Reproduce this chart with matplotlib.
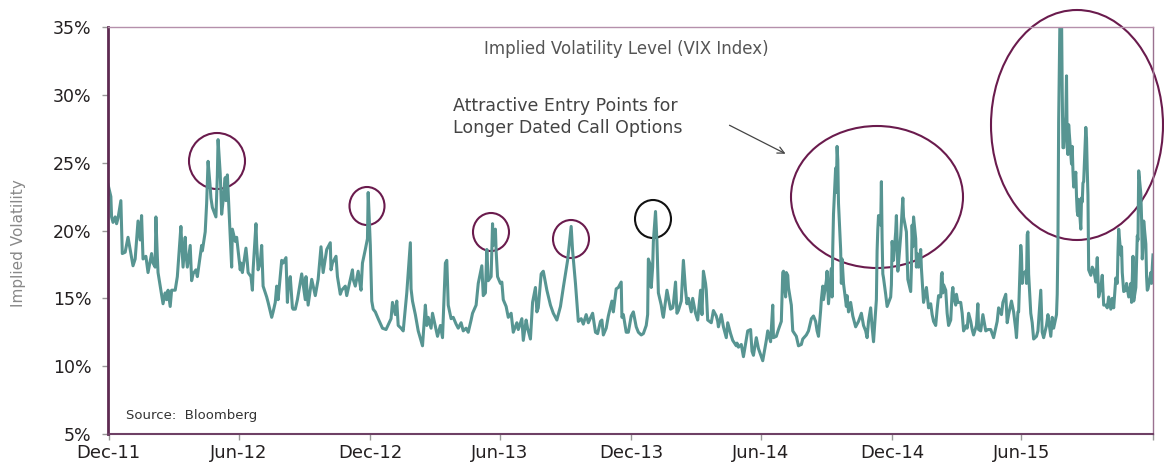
import matplotlib
matplotlib.use("Agg")
from matplotlib import pyplot as plt
from matplotlib.patches import Ellipse
import pandas as pd

dates = [
    "2011-12-30", "2012-01-03", "2012-01-04", "2012-01-06", "2012-01-09", "2012-01-11", "2012-01-13", "2012-01-17",
    "2012-01-19", "2012-01-23", "2012-01-27", "2012-01-31", "2012-02-03", "2012-02-06", "2012-02-10", "2012-02-13",
    "2012-02-15", "2012-02-17", "2012-02-21", "2012-02-24", "2012-02-29", "2012-03-02", "2012-03-05", "2012-03-06",
    "2012-03-08", "2012-03-09", "2012-03-13", "2012-03-16", "2012-03-19", "2012-03-21", "2012-03-23", "2012-03-26",
    "2012-03-28", "2012-04-02", "2012-04-04", "2012-04-05", "2012-04-10", "2012-04-11", "2012-04-13", "2012-04-16",
    "2012-04-17", "2012-04-19", "2012-04-23", "2012-04-25", "2012-04-27", "2012-05-01", "2012-05-03", "2012-05-09",
    "2012-05-10", "2012-05-14", "2012-05-16", "2012-05-18", "2012-05-21", "2012-05-22", "2012-05-24", "2012-05-29",
    "2012-05-31", "2012-06-01", "2012-06-04", "2012-06-06", "2012-06-08", "2012-06-11", "2012-06-12", "2012-06-14",
    "2012-06-18", "2012-06-19", "2012-06-20", "2012-06-21", "2012-06-25", "2012-06-27", "2012-07-02", "2012-07-03",
    "2012-07-05", "2012-07-10", "2012-07-12", "2012-07-13", "2012-07-17", "2012-07-19", "2012-07-20", "2012-07-24",
    "2012-07-25", "2012-07-27", "2012-07-30", "2012-08-01", "2012-08-03", "2012-08-08", "2012-08-10", "2012-08-15",
    "2012-08-17", "2012-08-20", "2012-08-22", "2012-08-24", "2012-08-29", "2012-08-31", "2012-09-04", "2012-09-06",
    "2012-09-07", "2012-09-10", "2012-09-13", "2012-09-14", "2012-09-17", "2012-09-20", "2012-09-26", "2012-10-01",
    "2012-10-02", "2012-10-05", "2012-10-10", "2012-10-15", "2012-10-19", "2012-10-23", "2012-10-26", "2012-10-31",
    "2012-11-05", "2012-11-06", "2012-11-08", "2012-11-13", "2012-11-15", "2012-11-19", "2012-11-21", "2012-11-26",
    "2012-11-28", "2012-12-06", "2012-12-07", "2012-12-10", "2012-12-14", "2012-12-17", "2012-12-18", "2012-12-20",
    "2012-12-24", "2012-12-27", "2012-12-28", "2012-12-31",
    "2013-01-02", "2013-01-04", "2013-01-07", "2013-01-11", "2013-01-17", "2013-01-22", "2013-01-29", "2013-01-31",
    "2013-02-04", "2013-02-06", "2013-02-08", "2013-02-12", "2013-02-15", "2013-02-20", "2013-02-25", "2013-02-26",
    "2013-02-28", "2013-03-04", "2013-03-08", "2013-03-14", "2013-03-18", "2013-03-20", "2013-03-22", "2013-03-26",
    "2013-03-28", "2013-04-04", "2013-04-08", "2013-04-11", "2013-04-15", "2013-04-17", "2013-04-19", "2013-04-23",
    "2013-04-26", "2013-04-30", "2013-05-03", "2013-05-07", "2013-05-10", "2013-05-14", "2013-05-17", "2013-05-21",
    "2013-05-23", "2013-05-28", "2013-05-31", "2013-06-05", "2013-06-07", "2013-06-10", "2013-06-12", "2013-06-14",
    "2013-06-18", "2013-06-20", "2013-06-21", "2013-06-24", "2013-06-25", "2013-06-27", "2013-07-01", "2013-07-03",
    "2013-07-05", "2013-07-09", "2013-07-12", "2013-07-16", "2013-07-19", "2013-07-24", "2013-07-26", "2013-07-31",
    "2013-08-02", "2013-08-06", "2013-08-08", "2013-08-12", "2013-08-15", "2013-08-19", "2013-08-21", "2013-08-23",
    "2013-08-27", "2013-08-30", "2013-09-04", "2013-09-09", "2013-09-13", "2013-09-18", "2013-09-23", "2013-09-27",
    "2013-10-03", "2013-10-08", "2013-10-10", "2013-10-14", "2013-10-16", "2013-10-18", "2013-10-22", "2013-10-25",
    "2013-10-29", "2013-11-01", "2013-11-07", "2013-11-11", "2013-11-14", "2013-11-18", "2013-11-20", "2013-11-22",
    "2013-11-26", "2013-11-29", "2013-12-04", "2013-12-06", "2013-12-10", "2013-12-13", "2013-12-17", "2013-12-18",
    "2013-12-20", "2013-12-24", "2013-12-27", "2013-12-31",
    "2014-01-03", "2014-01-07", "2014-01-10", "2014-01-14", "2014-01-17", "2014-01-21", "2014-01-23", "2014-01-24",
    "2014-01-27", "2014-01-28", "2014-01-30", "2014-01-31", "2014-02-03", "2014-02-05", "2014-02-07", "2014-02-11",
    "2014-02-13", "2014-02-14", "2014-02-19", "2014-02-24", "2014-02-27", "2014-02-28", "2014-03-03", "2014-03-05",
    "2014-03-07", "2014-03-11", "2014-03-14", "2014-03-17", "2014-03-19", "2014-03-21", "2014-03-25", "2014-03-27",
    "2014-03-31", "2014-04-03", "2014-04-07", "2014-04-09", "2014-04-11", "2014-04-14", "2014-04-15", "2014-04-17",
    "2014-04-22", "2014-04-25", "2014-04-29", "2014-05-01", "2014-05-02", "2014-05-06", "2014-05-09", "2014-05-13",
    "2014-05-15", "2014-05-19", "2014-05-22", "2014-05-27", "2014-05-28", "2014-05-30", "2014-06-03", "2014-06-06",
    "2014-06-12", "2014-06-16", "2014-06-18", "2014-06-20", "2014-06-24", "2014-06-27", "2014-07-03", "2014-07-08",
    "2014-07-10", "2014-07-14", "2014-07-17", "2014-07-18", "2014-07-22", "2014-07-25", "2014-07-29", "2014-07-31",
    "2014-08-01", "2014-08-04", "2014-08-05", "2014-08-07", "2014-08-08", "2014-08-12", "2014-08-14", "2014-08-19",
    "2014-08-22", "2014-08-26", "2014-08-28", "2014-09-02", "2014-09-05", "2014-09-09", "2014-09-12", "2014-09-15",
    "2014-09-17", "2014-09-19", "2014-09-22", "2014-09-23", "2014-09-25", "2014-09-26", "2014-09-30", "2014-10-01",
    "2014-10-03", "2014-10-07", "2014-10-08", "2014-10-09", "2014-10-10", "2014-10-13", "2014-10-14", "2014-10-15",
    "2014-10-16", "2014-10-17", "2014-10-20", "2014-10-21", "2014-10-22", "2014-10-24", "2014-10-28", "2014-10-29",
    "2014-10-31", "2014-11-03", "2014-11-06", "2014-11-10", "2014-11-14", "2014-11-18", "2014-11-21", "2014-11-24",
    "2014-11-26", "2014-11-28", "2014-12-01", "2014-12-03", "2014-12-05", "2014-12-08", "2014-12-09", "2014-12-10",
    "2014-12-11", "2014-12-12", "2014-12-15", "2014-12-16", "2014-12-17", "2014-12-18", "2014-12-19", "2014-12-22",
    "2014-12-24", "2014-12-29", "2014-12-30", "2014-12-31",
    "2015-01-02", "2015-01-05", "2015-01-06", "2015-01-07", "2015-01-08", "2015-01-09", "2015-01-12", "2015-01-13",
    "2015-01-14", "2015-01-15", "2015-01-16", "2015-01-20", "2015-01-22", "2015-01-26", "2015-01-27", "2015-01-28",
    "2015-01-29", "2015-01-30", "2015-02-02", "2015-02-03", "2015-02-04", "2015-02-06", "2015-02-09", "2015-02-10",
    "2015-02-13", "2015-02-17", "2015-02-20", "2015-02-23", "2015-02-25", "2015-02-27", "2015-03-02", "2015-03-04",
    "2015-03-06", "2015-03-09", "2015-03-10", "2015-03-11", "2015-03-12", "2015-03-13", "2015-03-16", "2015-03-18",
    "2015-03-20", "2015-03-23", "2015-03-25", "2015-03-26", "2015-03-27", "2015-03-30", "2015-03-31", "2015-04-02",
    "2015-04-06", "2015-04-08", "2015-04-10", "2015-04-14", "2015-04-15", "2015-04-17", "2015-04-20", "2015-04-22",
    "2015-04-24", "2015-04-28", "2015-04-30", "2015-05-01", "2015-05-04", "2015-05-07", "2015-05-11", "2015-05-14",
    "2015-05-18", "2015-05-20", "2015-05-22", "2015-05-27", "2015-05-29", "2015-06-02", "2015-06-04", "2015-06-08",
    "2015-06-10", "2015-06-12", "2015-06-16", "2015-06-19", "2015-06-22", "2015-06-23", "2015-06-25", "2015-06-26",
    "2015-06-29", "2015-06-30", "2015-07-01", "2015-07-02", "2015-07-06", "2015-07-07", "2015-07-08", "2015-07-09",
    "2015-07-10", "2015-07-13", "2015-07-15", "2015-07-17", "2015-07-21", "2015-07-23", "2015-07-27", "2015-07-29",
    "2015-07-31", "2015-08-04", "2015-08-06", "2015-08-10", "2015-08-12", "2015-08-14", "2015-08-18", "2015-08-19",
    "2015-08-20", "2015-08-21", "2015-08-24", "2015-08-25", "2015-08-26", "2015-08-27", "2015-08-28", "2015-08-31",
    "2015-09-01", "2015-09-02", "2015-09-03", "2015-09-04", "2015-09-08", "2015-09-09", "2015-09-10", "2015-09-11",
    "2015-09-14", "2015-09-15", "2015-09-16", "2015-09-17", "2015-09-18", "2015-09-21", "2015-09-22", "2015-09-23",
    "2015-09-24", "2015-09-25", "2015-09-28", "2015-09-29", "2015-09-30", "2015-10-01", "2015-10-02", "2015-10-05",
    "2015-10-07", "2015-10-09", "2015-10-12", "2015-10-14", "2015-10-16", "2015-10-19", "2015-10-21", "2015-10-23",
    "2015-10-26", "2015-10-28", "2015-10-30", "2015-11-02", "2015-11-04", "2015-11-06", "2015-11-09", "2015-11-11",
    "2015-11-12", "2015-11-13", "2015-11-16", "2015-11-17", "2015-11-18", "2015-11-20", "2015-11-23", "2015-11-24",
    "2015-11-27", "2015-11-30", "2015-12-01", "2015-12-03", "2015-12-04", "2015-12-07", "2015-12-08", "2015-12-09",
    "2015-12-10", "2015-12-11", "2015-12-14", "2015-12-15", "2015-12-16", "2015-12-17", "2015-12-18", "2015-12-21",
    "2015-12-22", "2015-12-23", "2015-12-24", "2015-12-28", "2015-12-29", "2015-12-30", "2015-12-31",
]

vix = [
    23.4, 22.5, 21.0, 20.6, 21.0, 20.5, 20.9, 22.2,
    18.3, 18.4, 19.5, 18.3, 17.4, 17.9, 20.7, 19.3,
    21.1, 17.9, 18.1, 16.9, 18.3, 17.6, 17.3, 21.0,
    18.1, 16.9, 15.6, 14.6, 15.4, 14.9, 15.6, 14.4,
    15.6, 15.6, 16.3, 16.6, 20.3, 19.2, 17.3, 19.5,
    18.3, 17.3, 18.9, 16.3, 16.8, 17.1, 16.6, 18.9,
    18.5, 19.9, 22.0, 25.1, 23.2, 22.4, 21.7, 21.0,
    24.1, 26.7, 24.2, 21.2, 22.2, 23.9, 22.2, 24.1,
    19.5, 18.3, 17.3, 20.1, 19.2, 19.5, 17.1, 17.6,
    16.9, 18.7, 17.6, 16.9, 16.6, 15.6, 17.1, 20.5,
    19.0, 17.1, 17.6, 18.9, 15.9, 15.1, 14.7, 13.6,
    14.0, 14.7, 15.9, 14.9, 17.8, 17.6, 18.0, 14.7,
    15.7, 16.6, 14.3, 14.2, 14.2, 14.9, 16.8, 14.9,
    16.6, 14.5, 16.4, 15.2, 16.4, 18.8, 16.9, 18.6,
    19.1, 17.1, 17.6, 18.1, 16.6, 15.3, 15.6, 15.9,
    15.2, 17.1, 16.4, 15.9, 17.0, 15.9, 15.6, 17.6,
    18.6, 19.4, 22.8, 18.9,
    14.8, 14.2, 14.0, 13.5, 12.8, 12.7, 13.5, 14.7,
    13.8, 14.8, 13.0, 12.8, 12.6, 15.4, 19.1, 15.7,
    14.8, 13.8, 12.6, 11.5, 14.5, 13.0, 13.6, 12.8,
    13.9, 12.2, 13.0, 12.1, 17.6, 17.8, 14.5, 13.5,
    13.6, 13.1, 12.8, 13.2, 12.6, 12.8, 12.5, 13.4,
    13.9, 14.5, 16.1, 17.4, 15.2, 15.4, 18.6, 16.3,
    16.6, 20.5, 18.9, 20.1, 18.5, 16.6, 16.1, 16.2,
    14.9, 14.4, 13.6, 13.9, 12.5, 13.2, 12.7, 13.5,
    11.9, 13.4, 12.8, 12.0, 14.7, 15.8, 14.0, 14.3,
    16.8, 17.0, 15.6, 14.5, 13.9, 13.4, 14.4, 15.8,
    17.8, 20.3, 18.5, 16.1, 14.7, 13.3, 13.5, 13.1,
    13.8, 13.2, 13.9, 12.5, 12.4, 13.3, 13.4, 12.3,
    12.8, 13.7, 14.8, 14.0, 15.7, 15.8, 16.2, 13.6,
    13.8, 12.5, 12.5, 13.7,
    14.0, 12.9, 12.5, 12.3, 12.4, 13.0, 13.8, 17.9,
    17.4, 15.8, 17.3, 19.2, 21.4, 19.2, 15.4, 14.5,
    13.8, 13.6, 15.6, 14.2, 14.3, 14.6, 16.2, 13.9,
    14.1, 14.8, 17.8, 15.6, 14.6, 15.0, 14.0, 15.0,
    13.9, 13.4, 15.6, 13.8, 17.0, 16.1, 15.6, 13.4,
    13.2, 14.1, 13.7, 13.3, 12.9, 13.8, 12.9, 12.1,
    13.2, 12.4, 11.9, 11.5, 11.7, 11.4, 11.6, 10.7,
    12.6, 12.7, 11.1, 10.8, 12.1, 11.3, 10.4, 11.9,
    12.6, 11.8, 14.5, 12.1, 12.2, 12.7, 13.3, 16.9,
    17.0, 15.1, 16.9, 16.7, 15.8, 14.5, 12.6, 12.2,
    11.5, 11.6, 12.0, 12.3, 12.6, 13.5, 13.7, 13.3,
    12.6, 12.2, 14.1, 14.9, 15.9, 14.9, 16.3, 17.0,
    14.6, 17.2, 15.1, 18.8, 21.2, 24.6, 22.8, 26.2,
    25.2, 22.0, 18.6, 16.1, 17.9, 16.1, 14.4, 15.2,
    14.0, 14.7, 13.7, 12.9, 13.3, 13.9, 13.0, 12.6,
    12.1, 13.3, 14.3, 12.9, 11.8, 14.2, 14.9, 18.5,
    20.1, 21.1, 20.4, 23.6, 19.4, 16.8, 16.5, 15.3,
    14.4, 15.1, 16.0, 19.2,
    17.8, 19.9, 21.1, 19.3, 17.0, 17.6, 19.6, 20.6,
    21.5, 22.4, 21.0, 19.9, 16.4, 15.5, 17.2, 20.4,
    18.8, 21.0, 19.4, 17.3, 18.3, 17.3, 18.6, 17.2,
    14.7, 15.8, 14.3, 14.6, 13.8, 13.3, 13.0, 14.2,
    15.2, 15.1, 16.7, 16.9, 15.4, 16.0, 15.6, 13.9,
    13.0, 13.4, 15.4, 15.8, 15.1, 14.5, 15.3, 14.7,
    14.7, 13.9, 12.6, 13.0, 12.8, 13.9, 13.3, 12.7,
    12.3, 13.0, 14.6, 12.7, 12.6, 13.8, 12.6, 12.7,
    12.7, 12.4, 12.1, 13.3, 14.3, 13.8, 14.7, 15.3,
    13.2, 13.8, 14.8, 14.0, 12.7, 12.1, 14.0, 14.0,
    18.9, 18.2, 16.1, 16.8, 17.0, 16.1, 19.7, 19.9,
    16.8, 13.9, 13.2, 12.0, 12.2, 12.6, 15.6, 12.5,
    12.1, 13.0, 13.8, 12.2, 13.6, 12.8, 13.8, 15.3,
    19.1, 28.0, 40.7, 36.0, 30.3, 26.1, 26.1, 28.4,
    31.4, 26.1, 25.6, 27.8, 24.9, 26.2, 24.4, 23.2,
    24.3, 22.5, 21.4, 21.1, 22.3, 20.1, 22.4, 22.1,
    23.5, 23.6, 27.6, 26.8, 24.5, 22.6, 17.1, 16.7,
    17.3, 17.1, 16.2, 18.0, 15.1, 15.8, 16.7, 14.5,
    14.5, 14.3, 15.1, 14.2, 15.0, 14.3, 16.5, 16.1,
    18.4, 20.1, 18.2, 18.8, 16.9, 15.5, 15.6, 16.1,
    15.1, 16.1, 14.7, 18.1, 14.8, 15.8, 17.6, 19.6,
    19.3, 24.4, 22.7, 20.9, 17.9, 18.9, 20.7, 19.0,
    16.6, 15.6, 15.7, 16.9, 16.1, 17.3, 18.2,
]

tick_dates = ["2011-12-31", "2012-06-30", "2012-12-31", "2013-06-30", "2013-12-31",
              "2014-06-30", "2014-12-31", "2015-06-30", "2015-12-31"]
tick_labels = ["Dec-11", "Jun-12", "Dec-12", "Jun-13", "Dec-13", "Jun-14", "Dec-14", "Jun-15", ""]
y_ticks = [5, 10, 15, 20, 25, 30, 35]

W, H = 1164, 463
fig = plt.figure(figsize=(W / 100, H / 100), dpi=100)
ax = fig.add_axes([108 / W, 1 - 434 / H, 1045 / W, 407 / H])

ax.plot(pd.to_datetime(dates), vix, color="#579592", linewidth=2.2, solid_joinstyle="round")

ax.set_ylim(5, 35)
ax.set_xlim(pd.Timestamp("2011-12-30"), pd.Timestamp("2015-12-31"))
ax.set_yticks(y_ticks)
ax.set_yticklabels([f"{t}%" for t in y_ticks], fontsize=12.5, color="#231f20")
ax.set_xticks(pd.to_datetime(tick_dates))
ax.set_xticklabels(tick_labels, fontsize=13, color="#231f20")
ax.tick_params(axis="both", direction="out", length=4, width=1, color="#999999")
ax.tick_params(axis="y", pad=8)
ax.tick_params(axis="x", pad=3)

# frame
ax.spines["left"].set_color("#5e2a52")
ax.spines["left"].set_linewidth(2)
ax.spines["bottom"].set_color("#6e4065")
ax.spines["bottom"].set_linewidth(1.5)
ax.spines["top"].set_color("#b590ab")
ax.spines["top"].set_linewidth(1)
ax.spines["right"].set_color("#9a7190")
ax.spines["right"].set_linewidth(1)


def px(x, y):
    # reference pixel -> axes fraction
    return (x - 108) / 1045, (434 - y) / 407


# highlight circles: centre x, centre y, width, height (pixels), colour
circles = [
    (217, 161, 56, 56, "#6a1b4d"),
    (367, 206, 35, 38, "#6a1b4d"),
    (491, 232, 36, 38, "#6a1b4d"),
    (571, 239, 36, 38, "#6a1b4d"),
    (653, 219, 36, 38, "#111111"),
    (877, 197, 172, 142, "#6a1b4d"),
    (1077, 125, 172, 230, "#6a1b4d"),
]
for cx, cy, w, h, col in circles:
    fx, fy = px(cx, cy)
    ax.add_patch(Ellipse((fx, fy), w / 1045, h / 407, transform=ax.transAxes,
                         fill=False, edgecolor=col, linewidth=1.5, clip_on=False))

fig.text(626 / W, 1 - 49 / H, "Implied Volatility Level (VIX Index)", ha="center", va="center",
         fontsize=12, color="#555555")
fig.text(453 / W, 1 - 117 / H, "Attractive Entry Points for\nLonger Dated Call Options",
         ha="left", va="center", fontsize=12.5, color="#444444", linespacing=1.35)
ax.annotate("", xy=(788, H - 155), xycoords="figure pixels", xytext=(727, H - 124),
            textcoords="figure pixels",
            arrowprops=dict(arrowstyle="->", color="#444444", lw=0.9, mutation_scale=12))
fig.text(126 / W, 1 - 415 / H, "Source:  Bloomberg", ha="left", va="center", fontsize=9.5, color="#333333")
fig.text(19 / W, 1 - 243 / H, "Implied Volatility", rotation=90, ha="center", va="center",
         fontsize=11, color="#888888")

fig.savefig("out.png", dpi=100)
